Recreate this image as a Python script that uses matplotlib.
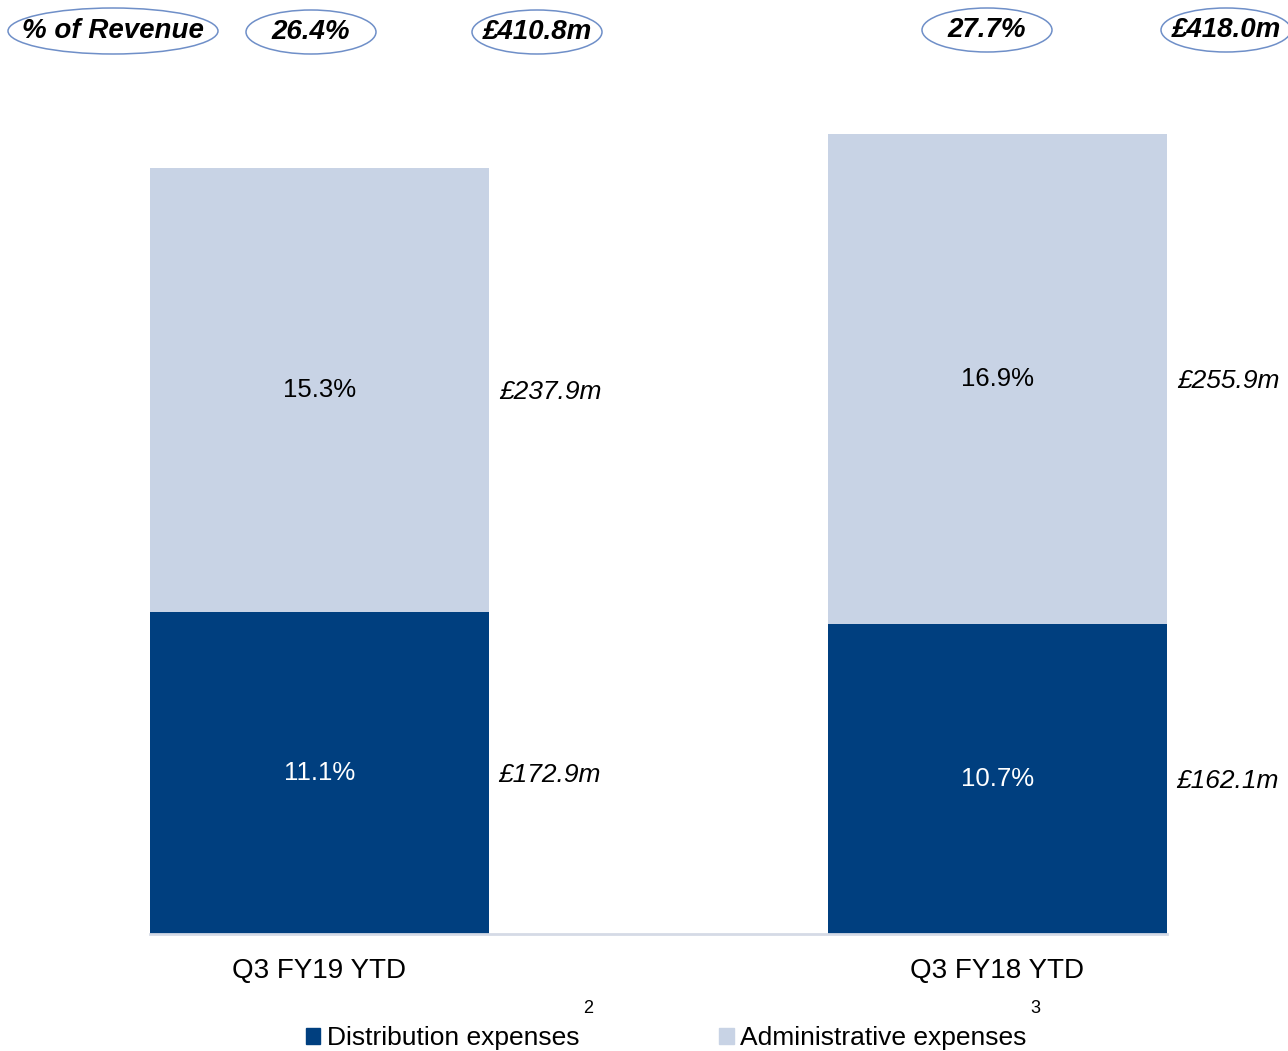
import numpy as np
import matplotlib.pyplot as plt
from matplotlib.patches import Patch, Ellipse

plt.rcParams['font.family'] = ['Liberation Sans', 'DejaVu Sans']

# data (bar heights are % of revenue)
categories = ['Q3 FY19 YTD', 'Q3 FY18 YTD']
dist_pct = [11.1, 10.7]
admin_pct = [15.3, 16.9]
dist_gbp = ['£172.9m', '£162.1m']
admin_gbp = ['£237.9m', '£255.9m']
total_pct = ['26.4%', '27.7%']
total_gbp = ['£410.8m', '£418.0m']
legend_labels = ['Distribution expenses', 'Administrative expenses']
footnotes = ['2', '3']

dark = '#003F7F'
light = '#C8D3E5'

fig = plt.figure(figsize=(12.88, 10.51), dpi=100)
W, H = 1288, 1051
ax = fig.add_axes([150 / W, 117 / H, 1017 / W, 870 / H])

x = np.arange(len(categories))
width = 0.5
ax.bar(x, dist_pct, width, color=dark, label=legend_labels[0])
ax.bar(x, admin_pct, width, bottom=dist_pct, color=light, label=legend_labels[1])

ax.set_xlim(-0.25, 1.25)
ax.set_ylim(0, 30)
ax.set_yticks([])
ax.set_xticks(x)
ax.set_xticklabels(categories, fontsize=20)
ax.tick_params(axis='x', length=0, pad=17)
for s in ['top', 'left', 'right']:
    ax.spines[s].set_visible(False)
ax.spines['bottom'].set_color('#D5DAE6')
ax.spines['bottom'].set_linewidth(2)

# labels inside and next to bars
for i in range(len(x)):
    ax.text(x[i], dist_pct[i] / 2, f'{dist_pct[i]:.1f}%', ha='center', va='center',
            color='white', fontsize=18.5)
    ax.text(x[i], dist_pct[i] + admin_pct[i] / 2, f'{admin_pct[i]:.1f}%', ha='center',
            va='center', color='black', fontsize=18.5)
    ax.annotate(dist_gbp[i], (x[i] + width / 2, dist_pct[i] / 2), xytext=(9, -2),
                textcoords='offset pixels', ha='left', va='center', fontsize=19, style='italic')
    ax.annotate(admin_gbp[i], (x[i] + width / 2, dist_pct[i] + admin_pct[i] / 2),
                xytext=(10, -2), textcoords='offset pixels', ha='left', va='center',
                fontsize=19, style='italic')

# top ellipses
def oval(cx, cy, text, w=130, h=44):
    e = Ellipse((cx / W, 1 - cy / H), w / W, h / H, transform=fig.transFigure,
                facecolor='none', edgecolor='#6F8FC8', linewidth=1.1)
    fig.add_artist(e)
    fig.text(cx / W, 1 - cy / H, text, ha='center', va='center', fontsize=20,
             fontweight='bold', style='italic')

oval(113, 31, '% of Revenue', w=210, h=46)
oval(311, 32, total_pct[0])
oval(537, 32, total_gbp[0])
oval(987, 30, total_pct[1])
oval(1226, 30, total_gbp[1])

# legend
handles = [Patch(color=dark), Patch(color=light)]
leg = fig.legend(handles, legend_labels, loc='center', bbox_to_anchor=(666 / W, 1 - 1038 / H),
                 ncol=2, frameon=False, fontsize=19, handlelength=0.55, handleheight=0.55,
                 handletextpad=0.25, columnspacing=5.3, borderpad=0)

fig.canvas.draw()
r = fig.canvas.get_renderer()
for t, n in zip(leg.get_texts(), footnotes):
    bb = t.get_window_extent(r)
    fig.text((bb.x1 + 9) / W, (bb.y1 + 9) / H, n, ha='center', va='bottom', fontsize=13)

fig.savefig('out.png', dpi=100)
